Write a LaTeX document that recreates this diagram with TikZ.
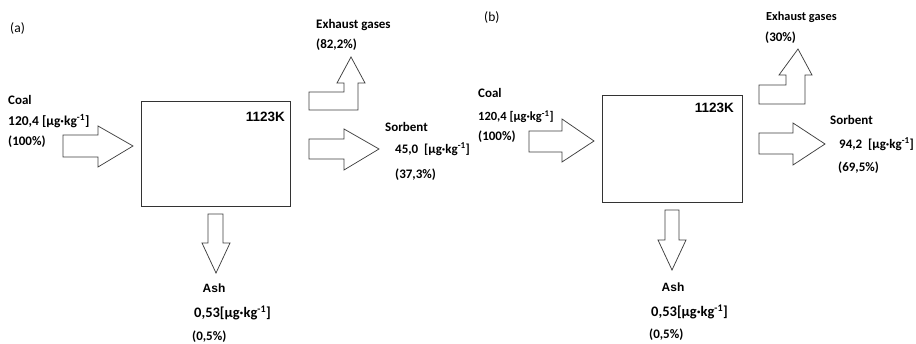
\documentclass[tikz,border=0pt]{standalone}
\usepackage{fontspec}
\setmainfont{Carlito}
\newfontfamily\arialfont{Liberation Sans}
\begin{document}
\begin{tikzpicture}[x=1pt,y=-1pt,
  lbl/.style={inner sep=0pt,anchor=west,font=\fontsize{13}{15}\selectfont\bfseries},
  biglbl/.style={lbl,font=\fontsize{14.5}{16}\selectfont\bfseries},
  tag/.style={inner sep=0pt,anchor=west,font=\fontsize{13.5}{15}\selectfont},
  temp/.style={inner sep=0pt,anchor=east,font=\fontsize{13.5}{15}\selectfont\arialfont\bfseries},
  ashlbl/.style={inner sep=0pt,font=\fontsize{12}{14}\selectfont\arialfont\bfseries},
  reactor/.style={draw=black!80,line width=0.9pt},
  flow/.style={draw=black!75,line width=0.75pt,line join=miter}]
\useasboundingbox (0,0) rectangle (916,344);
\fill[white] (0,0) rectangle (916,344);

\newcommand{\unit}{[µg·kg\textsuperscript{-1}]}

% ---------- panel (a) ----------
\node[tag] (taga) at (10,29) {(a)};
\draw[reactor] (141,101) rectangle (290,206);
\node[temp] (tempa) at (285,117) {1123K};
% coal in
\draw[flow] (63,135) -- (98,135) -- (98,126) -- (133,146) -- (98,167) -- (98,157) -- (63,157) -- cycle;
% exhaust out
\draw[flow] (309,110) -- (358,110) -- (358,83) -- (365,83) -- (351,57) -- (337,83) -- (344,83) -- (344,92) -- (309,92) -- cycle;
% sorbent out
\draw[flow] (309,139) -- (344,139) -- (344,129) -- (379,149) -- (344,170) -- (344,159) -- (309,159) -- cycle;
% ash out
\draw[flow] (208,214) -- (223,214) -- (223,243) -- (230,243) -- (216,273) -- (202,243) -- (208,243) -- cycle;

\node[lbl] (exa1) at (316,25) {Exhaust gases};
\node[lbl] (exa2) at (316,45) {(82,2\%)};
\node[lbl] (coa1) at (8,100) {Coal};
\node[lbl,font=\fontsize{13.5}{15}\selectfont\bfseries] (coa2) at (8,121) {120,4 \unit};
\node[lbl] (coa3) at (8,142) {(100\%)};
\node[lbl] (soa1) at (385,127) {Sorbent};
\node[lbl] (soa2) at (395,149) {45,0\ \ \unit};
\node[lbl] (soa3) at (395,175) {(37,3\%)};
\node[ashlbl] (asa1) at (214,288) {Ash};
\node[biglbl] (asa2) at (194,313) {0,53\unit};
\node[lbl] (asa3) at (192,337) {(0,5\%)};

% ---------- panel (b) ----------
\node[tag] (tagb) at (484,18) {(b)};
\draw[reactor] (602,95) rectangle (742,202);
\node[temp] (tempb) at (734,108) {1123K};
% coal in
\draw[flow] (529,131) -- (562,131) -- (562,119) -- (594,141) -- (562,162) -- (562,152) -- (529,152) -- cycle;
% exhaust out
\draw[flow] (759,104) -- (805,104) -- (805,75) -- (812,75) -- (798,49) -- (779,75) -- (786,75) -- (786,85) -- (759,85) -- cycle;
% sorbent out
\draw[flow] (759,133) -- (793,133) -- (793,123) -- (825,144) -- (793,165) -- (793,154) -- (759,154) -- cycle;
% ash out
\draw[flow] (665,210) -- (679,210) -- (679,240) -- (686,240) -- (672,270) -- (658,240) -- (665,240) -- cycle;

\node[lbl,font=\fontsize{12.3}{14}\selectfont\bfseries] (exb1) at (766,17) {Exhaust gases};
\node[lbl] (exb2) at (765,38) {(30\%)};
\node[lbl] (cob1) at (478,93) {Coal};
\node[lbl,font=\fontsize{12.5}{14}\selectfont\bfseries] (cob2) at (478,117) {120,4 \unit};
\node[lbl] (cob3) at (478,137) {(100\%)};
\node[lbl] (sob1) at (830,120) {Sorbent};
\node[lbl] (sob2) at (839,144) {94,2\ \ \unit};
\node[lbl] (sob3) at (838,168) {(69,5\%)};
\node[ashlbl] (asb1) at (673,287) {Ash};
\node[biglbl] (asb2) at (651,312) {0,53\unit};
\node[lbl] (asb3) at (649,335) {(0,5\%)};
\end{tikzpicture}
\end{document}
